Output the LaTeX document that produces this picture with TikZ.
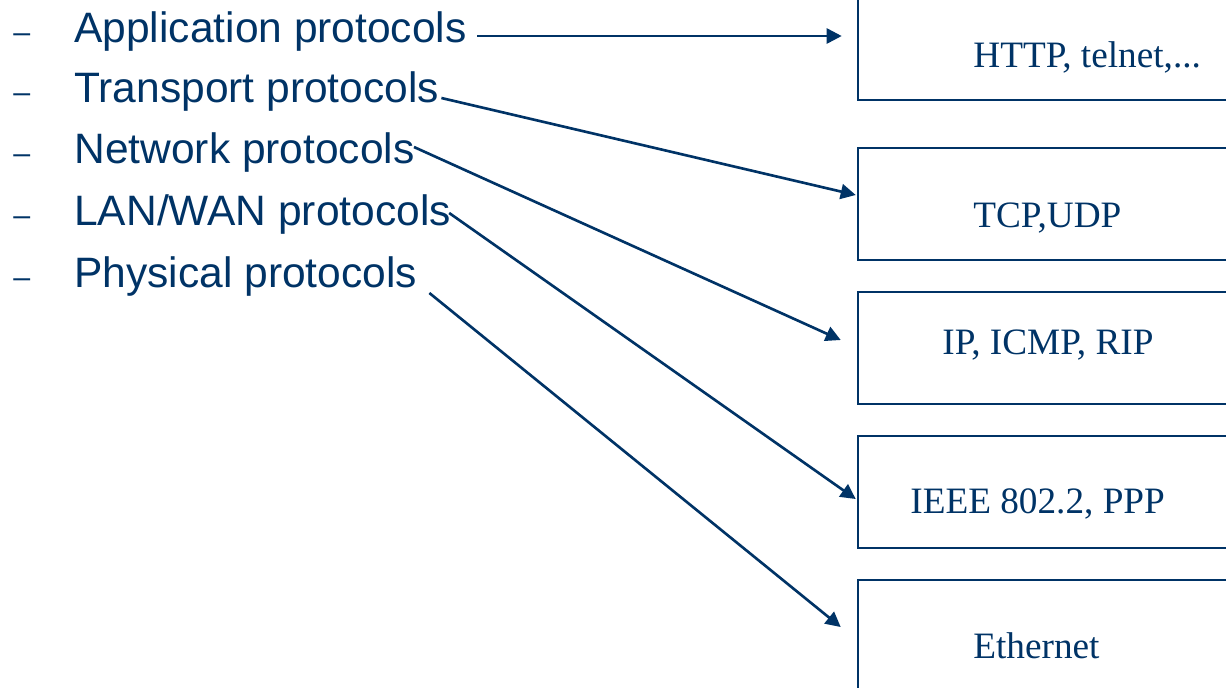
\documentclass[tikz,border=0pt]{standalone}
\usepackage{fontspec}
\setmainfont{Liberation Sans}
\newfontfamily\boxfont{Liberation Serif}
\usepackage{xcolor}
\usepackage{tikz}
\usetikzlibrary{arrows.meta, calc}
\definecolor{navy}{RGB}{0,51,102}

\begin{document}
\begin{tikzpicture}[x=0.02cm, y=-0.02cm, every node/.style={text=navy, inner sep=0pt},
    item/.style={anchor=base west, font=\fontsize{24.2}{28}\selectfont},
    dashmark/.style={anchor=base west, font=\fontsize{17.3}{20}\selectfont},
    layer/.style={draw=navy, line width=1.5pt, minimum width=7.44cm, minimum height=2.24cm},
    proto/.style={anchor=base west, font=\boxfont\fontsize{21.2}{25}\selectfont},
    link/.style={draw=navy, line width=1.5pt, -{Triangle[length=0.3cm, width=0.3cm]}}]

    \useasboundingbox (0,0) rectangle (1226,687);

    % Elenco
    \foreach \y in {42,102,163,225,287}
        \node[dashmark] (d\y) at (13,\y) {--};
    \node[item] (app) at (74,42) {Application protocols};
    \node[item] (trans) at (74,102) {Transport protocols};
    \node[item] (net) at (74,163) {Network protocols};
    \node[item] (lan) at (74,225) {LAN/WAN protocols};
    \node[item] (phys) at (74,287) {Physical protocols};

    % Livelli
    \node[layer] (b1) at (1044,44) {};
    \node[layer] (b2) at (1044,204) {};
    \node[layer] (b3) at (1044,348) {};
    \node[layer] (b4) at (1044,492) {};
    \node[layer] (b5) at (1044,636) {};

    \node[proto] (http) at (973,67) {HTTP, telnet,...};
    \node[proto] (tcp) at (973,227) {TCP,UDP};
    \node[proto] (ip) at (942,354) {IP, ICMP, RIP};
    \node[proto] (ieee) at (910,513) {IEEE 802.2, PPP};
    \node[proto] (eth) at (973,658) {Ethernet};

    % Frecce
    \draw[link] ($(app.base east)+(10,-6)$) -- ($(b1.west)+(-15,-8)$);
    \draw[link] ($(trans.base east)+(2,-4)$) -- ($(b2.west)+(-1,-9)$);
    \draw[link] ($(net.base east)+(-1,-16)$) -- ($(b3.west)+(-16,-8)$);
    \draw[link] ($(lan.base east)+(-2,-12)$) -- ($(b4.west)+(-1,7)$);
    \draw[link] ($(phys.base east)+(12,6)$) -- ($(b5.west)+(-16,-9)$);
\end{tikzpicture}
\end{document}
